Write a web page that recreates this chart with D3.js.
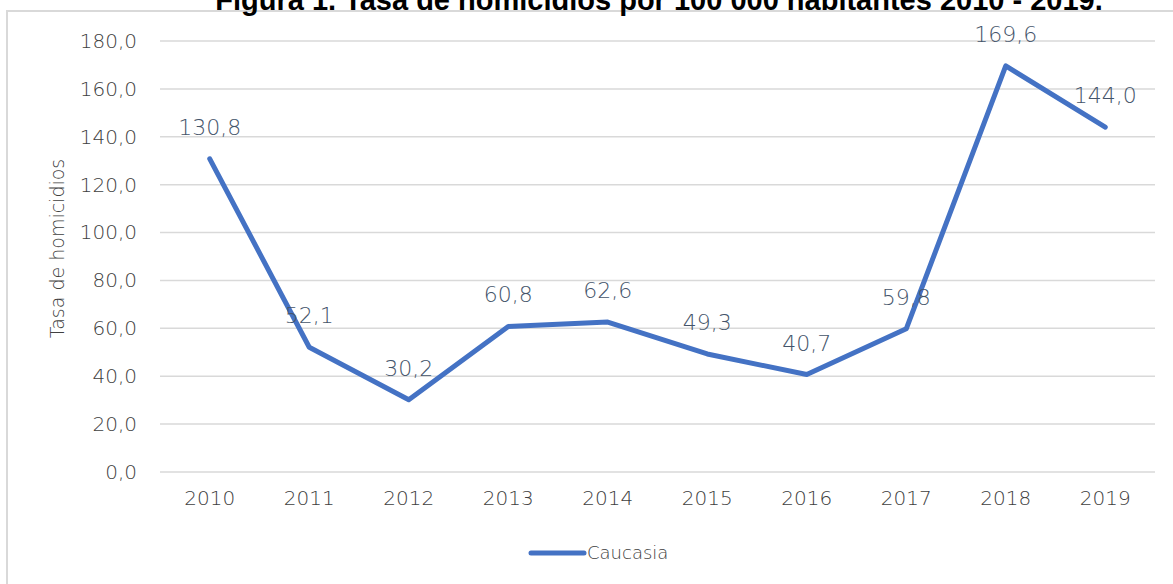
<!DOCTYPE html>
<html>
<head>
<meta charset="utf-8">
<script src="https://cdn.jsdelivr.net/npm/d3@7"></script>
<style>
  body { margin: 0; background: #fff; }
  svg { display: block; }
</style>
</head>
<body>
<div id="chart"></div>
<script>
const years = ["2010", "2011", "2012", "2013", "2014", "2015", "2016", "2017", "2018", "2019"];
const caucasia = [130.8, 52.1, 30.2, 60.8, 62.6, 49.3, 40.7, 59.8, 169.6, 144.0];
const yTicks = [0, 20, 40, 60, 80, 100, 120, 140, 160, 180];

const width = 1173;
const height = 584;
const margin = { top: 41, right: 18, bottom: 112, left: 160 };
const lineColor = "#4472C4";
const labelFont = "'DejaVu Sans', sans-serif";

const svg = d3.select("#chart")
  .append("svg")
  .attr("width", width)
  .attr("height", height);

// outer chart box (only top and left edges visible)
svg.append("path")
  .attr("d", `M7,${height} V11 H${width}`)
  .attr("fill", "none")
  .attr("stroke", "#d9d9d9")
  .attr("stroke-width", 2);

// title, cut off at the top like the source
svg.append("text")
  .attr("x", 659)
  .attr("y", 10)
  .attr("text-anchor", "middle")
  .style("font-family", "'Liberation Sans', Arial, sans-serif")
  .style("font-weight", "bold")
  .style("font-size", "29px")
  .text("Figura 1. Tasa de homicidios por 100 000 habitantes 2010 - 2019.");

const x = d3.scaleBand()
  .domain(years)
  .range([margin.left, width - margin.right]);

const y = d3.scaleLinear()
  .domain([0, 180])
  .range([height - margin.bottom, margin.top]);

const fmt = v => d3.format(".1f")(v).replace(".", ",");

// gridlines
svg.append("g")
  .selectAll("line")
  .data(yTicks)
  .join("line")
  .attr("x1", margin.left)
  .attr("x2", width - margin.right)
  .attr("y1", d => y(d))
  .attr("y2", d => y(d))
  .attr("stroke", "#d9d9d9")
  .attr("stroke-width", 1.5);

// y axis labels
const yAxis = svg.append("g")
  .attr("transform", `translate(${margin.left - 23},0)`)
  .call(d3.axisLeft(y).tickValues(yTicks).tickFormat(fmt).tickSize(0).tickPadding(0));
yAxis.select(".domain").remove();
yAxis.selectAll("text")
  .style("font-family", labelFont)
  .style("font-weight", 200)
  .style("font-size", "20px")
  .attr("fill", "#404040");

// x axis labels
const xAxis = svg.append("g")
  .attr("transform", `translate(0,${height - margin.bottom + 19})`)
  .call(d3.axisBottom(x).tickSize(0).tickPadding(0));
xAxis.select(".domain").remove();
xAxis.selectAll("text")
  .style("font-family", labelFont)
  .style("font-weight", 200)
  .style("font-size", "20px")
  .attr("fill", "#404040");

// y axis title
svg.append("text")
  .attr("transform", `translate(64,${(margin.top + height - margin.bottom) / 2 - 8}) rotate(-90)`)
  .attr("text-anchor", "middle")
  .style("font-family", labelFont)
  .style("font-weight", 200)
  .style("font-size", "19px")
  .attr("fill", "#404040")
  .text("Tasa de homicidios");

const points = years.map((yr, i) => ({ year: yr, value: caucasia[i] }));

const line = d3.line()
  .x(d => x(d.year) + x.bandwidth() / 2)
  .y(d => y(d.value));

svg.append("path")
  .datum(points)
  .attr("d", line)
  .attr("fill", "none")
  .attr("stroke", lineColor)
  .attr("stroke-width", 5)
  .attr("stroke-linejoin", "round")
  .attr("stroke-linecap", "round");

// data labels
svg.append("g")
  .selectAll("text")
  .data(points)
  .join("text")
  .attr("x", d => x(d.year) + x.bandwidth() / 2)
  .attr("y", d => y(d.value) - 24)
  .attr("text-anchor", "middle")
  .style("font-family", labelFont)
  .style("font-weight", 200)
  .style("font-size", "22px")
  .attr("fill", "#44546A")
  .text(d => fmt(d.value));

// legend
const legend = svg.append("g").attr("transform", "translate(529,553)");
legend.append("line")
  .attr("x1", 2).attr("x2", 55)
  .attr("stroke", lineColor)
  .attr("stroke-width", 5)
  .attr("stroke-linecap", "round");
legend.append("text")
  .attr("x", 58)
  .attr("y", 6)
  .style("font-family", labelFont)
  .style("font-weight", 200)
  .style("font-size", "18px")
  .attr("fill", "#404040")
  .text("Caucasia");
</script>
</body>
</html>
